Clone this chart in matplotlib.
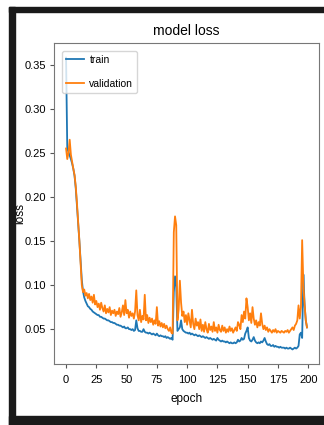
import matplotlib
matplotlib.use("Agg")
import matplotlib.pyplot as plt
from matplotlib.patches import Rectangle

plt.rcParams["font.family"] = ["Liberation Sans", "DejaVu Sans"]

# loss per epoch
train_loss = [
    0.358, 0.255, 0.251, 0.247, 0.243, 0.238, 0.232, 0.224, 0.210, 0.190,
    0.170, 0.150, 0.128, 0.106, 0.093, 0.086, 0.082, 0.079, 0.076, 0.075,
    0.073, 0.072, 0.070, 0.069, 0.068, 0.067, 0.066, 0.066, 0.064, 0.064,
    0.063, 0.062, 0.062, 0.061, 0.060, 0.060, 0.059, 0.058, 0.058, 0.057,
    0.057, 0.056, 0.055, 0.055, 0.054, 0.054, 0.053, 0.052, 0.053, 0.051,
    0.051, 0.052, 0.050, 0.050, 0.049, 0.050, 0.048, 0.049, 0.060, 0.051,
    0.048, 0.048, 0.047, 0.047, 0.050, 0.047, 0.046, 0.046, 0.045, 0.046,
    0.045, 0.044, 0.045, 0.044, 0.043, 0.045, 0.043, 0.042, 0.043, 0.042,
    0.042, 0.041, 0.042, 0.040, 0.041, 0.040, 0.039, 0.040, 0.038, 0.092,
    0.110, 0.098, 0.048, 0.050, 0.052, 0.060, 0.050, 0.048, 0.047, 0.046,
    0.046, 0.045, 0.046, 0.044, 0.045, 0.044, 0.043, 0.044, 0.043, 0.042,
    0.043, 0.042, 0.041, 0.042, 0.041, 0.040, 0.041, 0.040, 0.039, 0.040,
    0.039, 0.038, 0.039, 0.038, 0.037, 0.040, 0.038, 0.037, 0.036, 0.037,
    0.036, 0.036, 0.035, 0.036, 0.035, 0.034, 0.035, 0.034, 0.034, 0.035,
    0.034, 0.035, 0.038, 0.036, 0.037, 0.040, 0.038, 0.039, 0.045, 0.048,
    0.052, 0.040, 0.037, 0.036, 0.038, 0.041, 0.037, 0.035, 0.034, 0.035,
    0.034, 0.036, 0.035, 0.037, 0.040, 0.036, 0.033, 0.032, 0.033, 0.031,
    0.031, 0.032, 0.030, 0.031, 0.030, 0.030, 0.029, 0.030, 0.029, 0.029,
    0.029, 0.028, 0.029, 0.028, 0.028, 0.029, 0.028, 0.027, 0.028, 0.029,
    0.028, 0.029, 0.031, 0.044, 0.046, 0.040, 0.112, 0.078, 0.060, 0.052,
]

val_loss = [
    0.255, 0.243, 0.250, 0.265, 0.248, 0.240, 0.232, 0.225, 0.212, 0.193,
    0.172, 0.150, 0.126, 0.100, 0.092, 0.095, 0.088, 0.091, 0.085, 0.090,
    0.083, 0.087, 0.080, 0.089, 0.078, 0.082, 0.075, 0.079, 0.072, 0.080,
    0.074, 0.070, 0.077, 0.068, 0.073, 0.069, 0.075, 0.066, 0.071, 0.068,
    0.072, 0.065, 0.070, 0.067, 0.074, 0.064, 0.069, 0.077, 0.066, 0.083,
    0.068, 0.072, 0.063, 0.070, 0.065, 0.068, 0.062, 0.070, 0.094, 0.066,
    0.060, 0.072, 0.058, 0.065, 0.061, 0.089, 0.060, 0.066, 0.057, 0.063,
    0.058, 0.062, 0.055, 0.060, 0.056, 0.075, 0.054, 0.059, 0.053, 0.057,
    0.052, 0.056, 0.051, 0.054, 0.050, 0.048, 0.052, 0.046, 0.045, 0.160,
    0.178, 0.168, 0.060, 0.072, 0.105, 0.080, 0.065, 0.070, 0.058, 0.066,
    0.055, 0.068, 0.060, 0.052, 0.072, 0.056, 0.050, 0.062, 0.054, 0.058,
    0.050, 0.061, 0.048, 0.055, 0.047, 0.058, 0.050, 0.046, 0.056, 0.049,
    0.053, 0.047, 0.058, 0.048, 0.052, 0.046, 0.055, 0.049, 0.047, 0.054,
    0.048, 0.052, 0.046, 0.050, 0.047, 0.053, 0.048, 0.051, 0.046, 0.049,
    0.052, 0.048, 0.058, 0.055, 0.050, 0.066, 0.058, 0.070, 0.062, 0.085,
    0.075, 0.060, 0.068, 0.057, 0.075, 0.062, 0.055, 0.060, 0.052, 0.058,
    0.054, 0.068, 0.056, 0.050, 0.054, 0.049, 0.052, 0.047, 0.050, 0.048,
    0.046, 0.049, 0.047, 0.050, 0.046, 0.048, 0.047, 0.046, 0.048, 0.047,
    0.046, 0.048, 0.047, 0.049, 0.046, 0.048, 0.050, 0.052, 0.049, 0.054,
    0.056, 0.060, 0.077, 0.062, 0.075, 0.151, 0.100, 0.078, 0.060, 0.052,
]

epochs = list(range(len(train_loss)))
series_labels = ["train", "validation"]

fig = plt.figure(figsize=(3.24, 4.25), dpi=100)
ax = fig.add_axes([0.1667, 0.1435, 0.818, 0.755])

ax.plot(epochs, train_loss, color="tab:blue", lw=1.3, label=series_labels[0])
ax.plot(epochs, val_loss, color="tab:orange", lw=1.3, label=series_labels[1])

ax.set_title("model loss", fontsize=10, pad=6)
ax.set_xlabel("epoch", fontsize=8.5, labelpad=6)
ax.set_ylabel("loss", fontsize=8.5)
ax.yaxis.set_label_coords(-0.105, 0.47)
ax.set_xticks([0, 25, 50, 75, 100, 125, 150, 175, 200])
ax.tick_params(labelsize=8, length=3, color="#555555")
ax.tick_params(axis="x", pad=5)
ax.tick_params(axis="y", pad=2.5)
for s in ax.spines.values():
    s.set_color("#777777")
ax.legend(loc="upper left", fontsize=7.5, borderaxespad=0.75,
          handlelength=1.75, handletextpad=0.5, labelspacing=1.3)

# dark frame around the screenshot (top, left and bottom)
frame = dict(color="#1a1a1a", transform=fig.transFigure, zorder=10)
fig.patches.append(Rectangle((9 / 324, 413 / 425), 315 / 324, 5 / 425, **frame))
fig.patches.append(Rectangle((9 / 324, 0), 6 / 324, 418 / 425, **frame))
fig.patches.append(Rectangle((9 / 324, 0), 315 / 324, 9 / 425, **frame))

fig.savefig("out.png", dpi=100)
